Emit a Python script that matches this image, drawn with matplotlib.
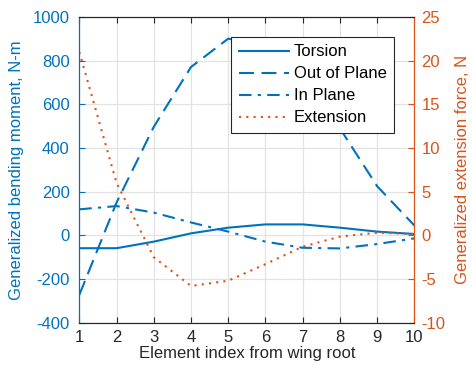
import matplotlib
matplotlib.use("Agg")
import matplotlib.pyplot as plt

plt.rcParams['font.family'] = ['Liberation Sans', 'DejaVu Sans']
plt.rcParams['axes.unicode_minus'] = False

element = [1, 2, 3, 4, 5, 6, 7, 8, 9, 10]
torsion = [-59, -59, -29, 9, 35, 50, 50, 35, 17, 6]
out_of_plane = [-273, 150, 497, 771, 901, 870, 720, 490, 225, 45]
in_plane = [119, 134, 104, 59, 17, -29, -57, -60, -40, -14]
extension = [21.0, 6.0, -2.5, -5.8, -5.2, -3.3, -1.3, -0.15, 0.3, 0.15]

blue = '#0072BD'
orange = '#D95319'
dark = '#262626'
fs = 12

fig = plt.figure(figsize=(4.73, 3.70), dpi=100)
ax = fig.add_axes([0.1677, 0.128, 0.7083, 0.826])
ax2 = ax.twinx()

l1, = ax.plot(element, torsion, color=blue, lw=1.5, ls='-', label='Torsion')
l2, = ax.plot(element, out_of_plane, color=blue, lw=1.5, ls=(0, (7.2, 3.6)), label='Out of Plane')
l3, = ax.plot(element, in_plane, color=blue, lw=1.5, ls=(0, (6, 3, 1.5, 3)), label='In Plane')
l4, = ax2.plot(element, extension, color=orange, lw=1.5, ls=(0, (1, 2.5)), label='Extension')

ax.set_xlim(1, 10)
ax.set_ylim(-400, 1000)
ax2.set_ylim(-10, 25)
ax.set_xticks(range(1, 11))
ax.set_yticks(range(-400, 1001, 200))
ax2.set_yticks(range(-10, 26, 5))

ax.grid(True, color='#e3e3e3', lw=0.9)
ax.set_axisbelow(True)

ax.tick_params(axis='x', direction='in', top=True, colors=dark, labelsize=fs, length=4, pad=5)
ax.tick_params(axis='y', direction='in', colors=blue, labelsize=fs, length=4, pad=7)
ax2.tick_params(axis='y', direction='in', colors=orange, labelsize=fs, length=4, pad=5)

for a in (ax, ax2):
    a.spines['top'].set_color(dark)
    a.spines['bottom'].set_color(dark)
    a.spines['left'].set_color(blue)
    a.spines['right'].set_color(orange)

ax.set_xlabel('Element index from wing root', fontsize=fs, color=dark, labelpad=1)
ax.set_ylabel('Generalized bending moment, N-m', fontsize=fs, color=blue, labelpad=6)
ax2.set_ylabel('Generalized extension force, N', fontsize=fs, color=orange, labelpad=7)

leg = ax2.legend(handles=[l1, l2, l3, l4], loc='upper right',
                 bbox_to_anchor=(394 / 473, 1 - 37 / 370), bbox_transform=fig.transFigure,
                 fontsize=fs, frameon=True,
                 fancybox=False, edgecolor=dark, framealpha=1,
                 handlelength=3.0, borderpad=0.45, labelspacing=0.42, handletextpad=0.3,
                 borderaxespad=0)
leg.get_frame().set_linewidth(0.8)

fig.savefig('out.png', dpi=100)
